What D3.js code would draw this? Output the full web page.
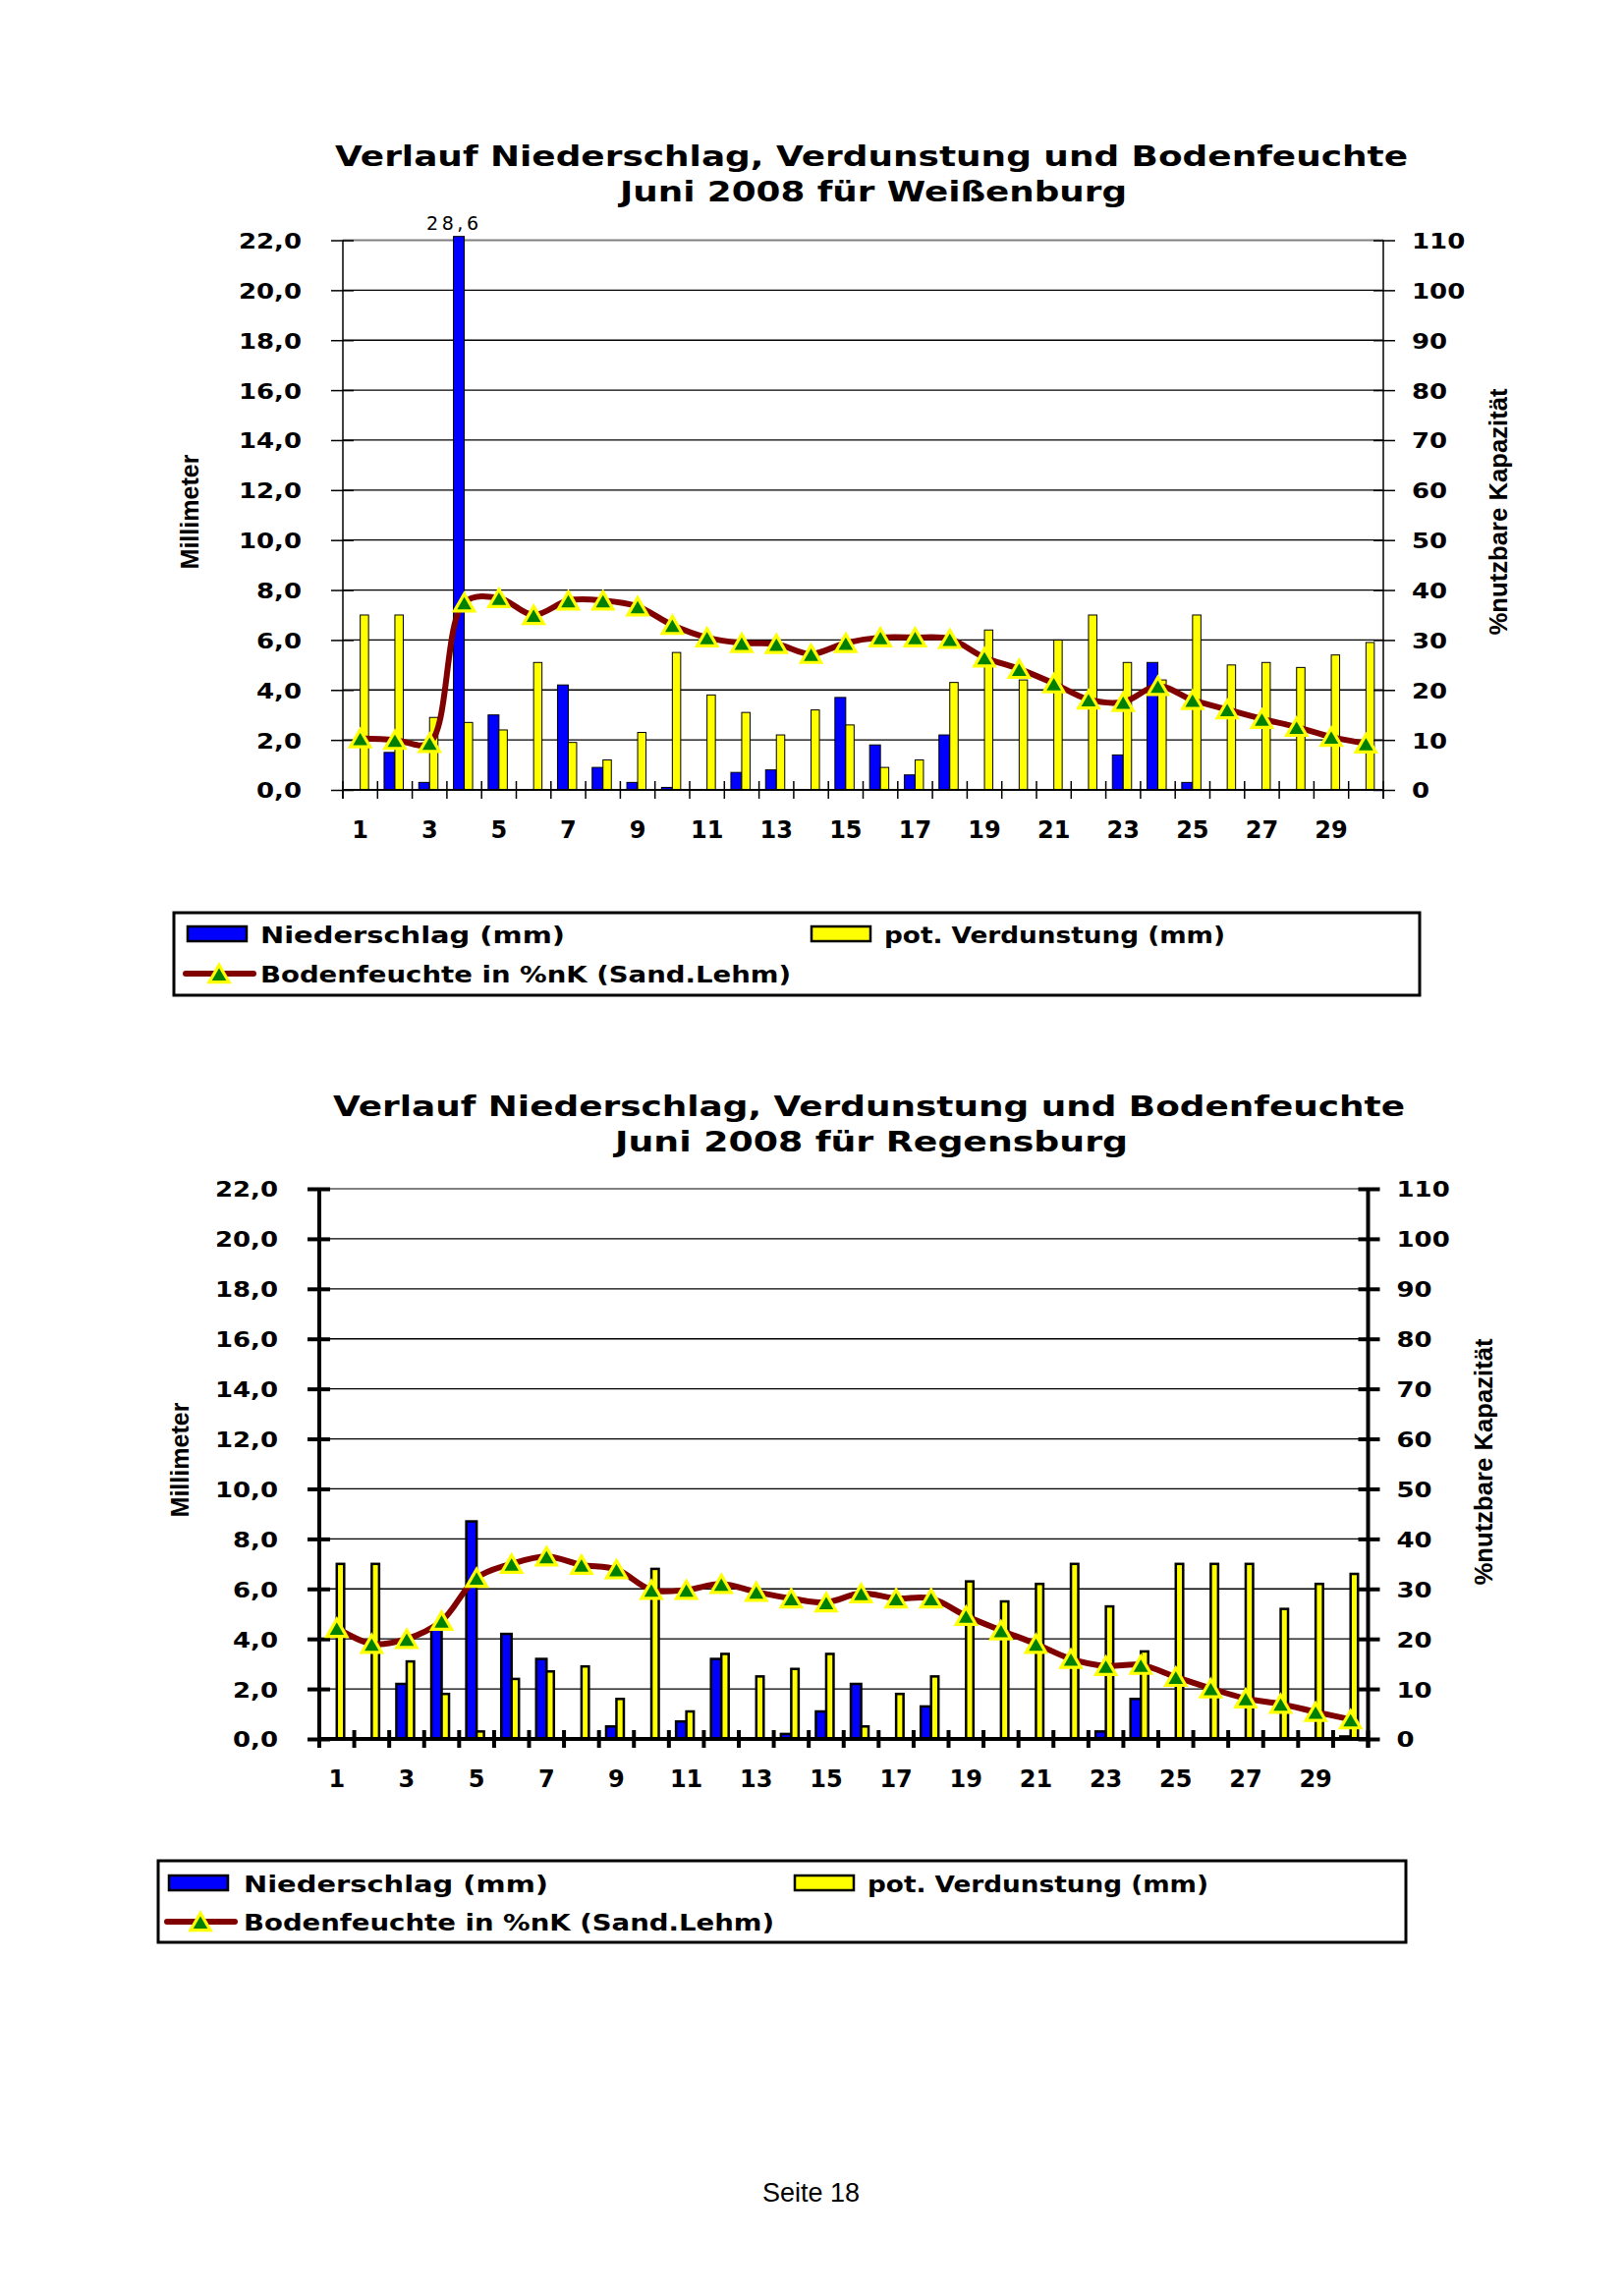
<!DOCTYPE html>
<html><head><meta charset="utf-8">
<script src="https://cdn.jsdelivr.net/npm/d3@7"></script>
<style>body{margin:0;background:#fff}</style>
</head><body>
<svg id="c" width="1653" height="2337" xmlns="http://www.w3.org/2000/svg"></svg>
<script>
// ---------- data ----------
const days = [1,2,3,4,5,6,7,8,9,10,11,12,13,14,15,16,17,18,19,20,21,22,23,24,25,26,27,28,29,30];
const xTickLabels = [1,3,5,7,9,11,13,15,17,19,21,23,25,27,29];
const mmTicks = [0,2,4,6,8,10,12,14,16,18,20,22];
const pctTicks = [0,10,20,30,40,50,60,70,80,90,100,110];

// Weißenburg
const niederW = [0,1.5,0.3,28.6,3.0,0,4.2,0.9,0.3,0.1,0,0.7,0.8,0,3.7,1.8,0.6,2.2,0,0,0,0,1.4,5.1,0.3,0,0,0,0,0];
const verdW   = [7.0,7.0,2.9,2.7,2.4,5.1,1.9,1.2,2.3,5.5,3.8,3.1,2.2,3.2,2.6,0.9,1.2,4.3,6.4,4.4,6.0,7.0,5.1,4.4,7.0,5.0,5.1,4.9,5.4,5.9];
const bodenW  = [10.3,10.0,9.4,37.5,38.4,35.0,37.9,37.9,36.7,33.0,30.5,29.4,29.2,27.2,29.4,30.5,30.5,30.2,26.5,24.2,21.3,18.1,17.6,20.8,18.0,16.1,14.2,12.6,10.6,9.3];

// Regensburg
const niederR = [0,0,2.2,4.4,8.7,4.2,3.2,0,0.5,0,0.7,3.2,0,0.2,1.1,2.2,0,1.3,0,0,0,0,0.3,1.6,0,0,0,0,0,0.1];
const verdR   = [7.0,7.0,3.1,1.8,0.3,2.4,2.7,2.9,1.6,6.8,1.1,3.4,2.5,2.8,3.4,0.5,1.8,2.5,6.3,5.5,6.2,7.0,5.3,3.5,7.0,7.0,7.0,5.2,6.2,6.6];
const bodenR  = [22.2,19.0,20.0,23.6,32.2,35.0,36.5,34.8,33.9,29.8,29.8,31.0,29.4,28.1,27.3,29.1,28.1,28.1,24.6,21.7,19.0,16.0,14.6,14.8,12.4,10.1,8.1,7.0,5.4,3.9];

const titleLine1 = "Verlauf Niederschlag, Verdunstung und Bodenfeuchte";
const stations = ["Juni 2008 für Weißenburg", "Juni 2008 für Regensburg"];
const seriesNames = ["Niederschlag (mm)", "pot. Verdunstung (mm)", "Bodenfeuchte in %nK (Sand.Lehm)"];
const axisTitles = ["Millimeter", "%nutzbare Kapazität"];

// ---------- layout ----------
const layouts = [
  {left:349, right:1408, top:244.5, bottom:804, thick:false,
   t1:{x:341,y:169,len:1092}, t2:{x:631,y:204.5,len:516},
   yTitle:{x:202,y:521}, rTitle:{x:1534,y:521},
   leg:{x:177,y:929,w:1268,h:84,r1:951,r2:991,s1:191,tx1:265,s2:826,tx2:900}},
  {left:325, right:1392.5, top:1210, bottom:1770, thick:true,
   t1:{x:339,y:1136,len:1091}, t2:{x:626,y:1171.5,len:522},
   yTitle:{x:192,y:1486}, rTitle:{x:1519,y:1488},
   leg:{x:161,y:1894,w:1270,h:83,r1:1917,r2:1956,s1:172,tx1:248,s2:809,tx2:883}}
];
const chartData = [
  {nieder:niederW, verd:verdW, boden:bodenW, station:stations[0], overflowLabel:true},
  {nieder:niederR, verd:verdR, boden:bodenR, station:stations[1], overflowLabel:false}
];

const svg = d3.select('#c');
const de = d3.formatLocale({decimal:",", thousands:".", grouping:[3], currency:["","€"]});
const fmt1 = de.format(".1f");
const BOLD = "'DejaVu Sans', Verdana, sans-serif";
const NARROW = "'Liberation Sans', Arial, sans-serif";

// stretch glyphs horizontally (wide bold look of the original)
function widen(sel, factor) {
  sel.each(function () {
    const w = this.getComputedTextLength();
    d3.select(this).attr('textLength', w * factor).attr('lengthAdjust', 'spacingAndGlyphs');
  });
}

function drawChart(L, D) {
  const g = svg.append('g');
  const x = d3.scaleBand().domain(days).range([L.left, L.right]).paddingInner(0).paddingOuter(0);
  const bw = x.bandwidth();
  const cx = d => x(d) + bw / 2;
  const yL = d3.scaleLinear().domain([0, 22]).range([L.bottom, L.top]);
  const yR = d3.scaleLinear().domain([0, 110]).range([L.bottom, L.top]);
  const axW = L.thick ? 4 : 1.5;
  const barSW = L.thick ? 2.5 : 1;

  // titles
  g.append('text').attr('x', L.t1.x).attr('y', L.t1.y).attr('textLength', L.t1.len).attr('lengthAdjust', 'spacingAndGlyphs')
    .style('font-family', BOLD).style('font-weight', 'bold').style('font-size', '29px').text(titleLine1);
  g.append('text').attr('x', L.t2.x).attr('y', L.t2.y).attr('textLength', L.t2.len).attr('lengthAdjust', 'spacingAndGlyphs')
    .style('font-family', BOLD).style('font-weight', 'bold').style('font-size', '29px').text(D.station);

  // gridlines
  g.append('g').selectAll('line').data(mmTicks.filter(v => v > 0)).join('line')
    .attr('x1', L.left).attr('x2', L.right)
    .attr('y1', d => yL(d)).attr('y2', d => yL(d))
    .attr('stroke', d => d === 22 ? '#808080' : '#000')
    .attr('stroke-width', d => d === 22 ? 2 : 1.3);

  // bars
  const maxShown = 22.15;
  const blueW = L.thick ? 10.5 : 11, yelW = L.thick ? 7.5 : 8.5;
  g.append('g').selectAll('rect').data(days.map((d, i) => ({d, v: D.nieder[i]})).filter(o => o.v > 0)).join('rect')
    .attr('x', o => cx(o.d) - blueW).attr('width', blueW)
    .attr('y', o => yL(Math.min(o.v, maxShown))).attr('height', o => yL(0) - yL(Math.min(o.v, maxShown)))
    .attr('fill', '#0000ff').attr('stroke', '#000').attr('stroke-width', barSW);
  g.append('g').selectAll('rect').data(days.map((d, i) => ({d, v: D.verd[i]})).filter(o => o.v > 0)).join('rect')
    .attr('x', o => cx(o.d)).attr('width', yelW)
    .attr('y', o => yL(o.v)).attr('height', o => yL(0) - yL(o.v))
    .attr('fill', '#ffff00').attr('stroke', '#000').attr('stroke-width', barSW);

  if (D.overflowLabel) {
    const i = D.nieder.findIndex(v => v > 22);
    g.append('text').attr('x', cx(days[i]) - blueW / 2 - 33).attr('y', L.top - 11)
      .attr('textLength', 53).attr('lengthAdjust', 'spacing')
      .style('font-family', BOLD).style('font-size', '19px').text(fmt1(D.nieder[i]));
  }

  // axis lines
  g.append('line').attr('x1', L.left).attr('x2', L.left).attr('y1', L.top).attr('y2', L.bottom + 9)
    .attr('stroke', '#000').attr('stroke-width', axW);
  g.append('line').attr('x1', L.right).attr('x2', L.right).attr('y1', L.top).attr('y2', L.bottom + 9)
    .attr('stroke', '#000').attr('stroke-width', axW);
  g.append('line').attr('x1', L.left).attr('x2', L.right).attr('y1', L.bottom).attr('y2', L.bottom)
    .attr('stroke', '#000').attr('stroke-width', L.thick ? 4 : 2);

  // left axis
  const aL = g.append('g').attr('transform', `translate(${L.left},0)`)
    .call(d3.axisLeft(yL).tickValues(mmTicks).tickFormat(fmt1).tickSize(11));
  aL.select('.domain').remove();
  aL.selectAll('.tick line').attr('x1', 11).attr('x2', -12).attr('stroke-width', axW);
  const tL = aL.selectAll('.tick text').attr('x', -42).attr('dy', '0.36em')
    .style('font-family', BOLD).style('font-weight', 'bold').style('font-size', '22px').attr('fill', '#000');
  widen(tL, 1.18);

  // right axis
  const aR = g.append('g').attr('transform', `translate(${L.right},0)`)
    .call(d3.axisRight(yR).tickValues(pctTicks).tickFormat(d3.format('d')).tickSize(12));
  aR.select('.domain').remove();
  aR.selectAll('.tick line').attr('x1', -10).attr('x2', 12).attr('stroke-width', axW);
  const tR = aR.selectAll('.tick text').attr('x', 29).attr('dy', '0.36em')
    .style('font-family', BOLD).style('font-weight', 'bold').style('font-size', '22px').attr('fill', '#000');
  widen(tR, 1.18);

  // x boundary ticks
  const bounds = days.map(d => x(d)).concat([x.range()[1]]);
  g.append('g').selectAll('line').data(bounds).join('line')
    .attr('x1', d => d).attr('x2', d => d)
    .attr('y1', L.bottom - 9).attr('y2', L.bottom + 9)
    .attr('stroke', '#000').attr('stroke-width', L.thick ? 4 : 1.5);

  // x labels
  const aB = g.append('g').attr('transform', `translate(0,${L.bottom})`)
    .call(d3.axisBottom(x).tickValues(xTickLabels).tickSize(0));
  aB.select('.domain').remove();
  aB.selectAll('.tick line').remove();
  aB.selectAll('.tick text').attr('y', 49).attr('dy', 0)
    .style('font-family', BOLD).style('font-weight', 'bold').style('font-size', '24px').attr('fill', '#000');

  // axis titles
  g.append('text').attr('transform', `translate(${L.yTitle.x},${L.yTitle.y}) rotate(-90)`)
    .attr('text-anchor', 'middle').attr('textLength', 117).attr('lengthAdjust', 'spacingAndGlyphs')
    .style('font-family', NARROW).style('font-weight', 'bold').style('font-size', '25px').text(axisTitles[0]);
  g.append('text').attr('transform', `translate(${L.rTitle.x},${L.rTitle.y}) rotate(-90)`)
    .attr('text-anchor', 'middle').attr('textLength', 251).attr('lengthAdjust', 'spacingAndGlyphs')
    .style('font-family', NARROW).style('font-weight', 'bold').style('font-size', '26px').text(axisTitles[1]);

  // soil moisture line
  const line = d3.line().x((v, i) => cx(days[i])).y(v => yR(v)).curve(d3.curveCatmullRom.alpha(0.5));
  g.append('path').datum(D.boden).attr('d', line).attr('fill', 'none')
    .attr('stroke', '#800000').attr('stroke-width', 6).attr('stroke-linejoin', 'round');
  const tri = d3.symbol(d3.symbolTriangle, 175);
  g.append('g').selectAll('path').data(D.boden).join('path')
    .attr('d', tri).attr('transform', (v, i) => `translate(${cx(days[i])},${yR(v) + 2.8})`)
    .attr('fill', '#008000').attr('stroke', '#ffff00').attr('stroke-width', 3.2);

  // legend
  const lg = L.leg;
  g.append('rect').attr('x', lg.x).attr('y', lg.y).attr('width', lg.w).attr('height', lg.h)
    .attr('fill', 'none').attr('stroke', '#000').attr('stroke-width', 3);
  g.append('rect').attr('x', lg.s1).attr('y', lg.r1 - 8).attr('width', 60).attr('height', 15)
    .attr('fill', '#0000ff').attr('stroke', '#000').attr('stroke-width', 2.5);
  g.append('rect').attr('x', lg.s2).attr('y', lg.r1 - 8).attr('width', 60).attr('height', 15)
    .attr('fill', '#ffff00').attr('stroke', '#000').attr('stroke-width', 2.5);
  g.append('line').attr('x1', lg.s1 - 2).attr('x2', lg.s1 + 67).attr('y1', lg.r2).attr('y2', lg.r2)
    .attr('stroke', '#800000').attr('stroke-width', 6).attr('stroke-linecap', 'round');
  g.append('path').attr('d', tri).attr('transform', `translate(${lg.s1 + 32},${lg.r2 + 2.8})`)
    .attr('fill', '#008000').attr('stroke', '#ffff00').attr('stroke-width', 3.2);
  const legTexts = [
    {x: lg.tx1, y: lg.r1, t: seriesNames[0], len: 310},
    {x: lg.tx2, y: lg.r1, t: seriesNames[1], len: 347},
    {x: lg.tx1, y: lg.r2, t: seriesNames[2], len: 540}
  ];
  g.append('g').selectAll('text').data(legTexts).join('text')
    .attr('x', d => d.x).attr('y', d => d.y + 8.5).attr('textLength', d => d.len).attr('lengthAdjust', 'spacingAndGlyphs')
    .style('font-family', BOLD).style('font-weight', 'bold').style('font-size', '23px').text(d => d.t);
}

layouts.forEach((L, i) => drawChart(L, chartData[i]));

svg.append('text').attr('x', 825.5).attr('y', 2241).attr('text-anchor', 'middle')
  .style('font-family', NARROW).style('font-size', '27px').text('Seite 18');
</script>
</body></html>
